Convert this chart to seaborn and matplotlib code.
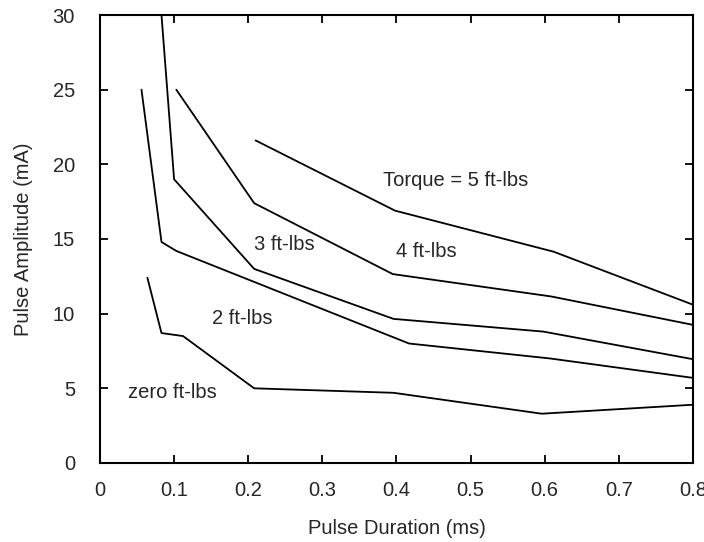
import pandas as pd
import matplotlib
matplotlib.use('Agg')
import matplotlib.pyplot as plt
import seaborn as sns

# Pulse duration (ms) / amplitude (mA) for each torque curve
zero_x = [0.064, 0.083, 0.112, 0.208, 0.396, 0.596, 0.80]
zero_y = [12.4, 8.7, 8.5, 5.0, 4.7, 3.3, 3.9]

two_x = [0.056, 0.083, 0.103, 0.417, 0.607, 0.80]
two_y = [25.0, 14.8, 14.2, 8.0, 7.0, 5.7]

three_x = [0.083, 0.100, 0.208, 0.396, 0.598, 0.80]
three_y = [30.0, 19.0, 13.0, 9.65, 8.8, 6.95]

four_x = [0.103, 0.208, 0.395, 0.609, 0.80]
four_y = [25.0, 17.4, 12.65, 11.15, 9.25]

five_x = [0.210, 0.398, 0.612, 0.80]
five_y = [21.6, 16.9, 14.15, 10.6]

labels = ['zero ft-lbs', '2 ft-lbs', '3 ft-lbs', '4 ft-lbs', 'Torque = 5 ft-lbs']
label_x = [0.098, 0.192, 0.249, 0.44, 0.48]
label_y = [4.7, 9.7, 14.6, 14.15, 18.95]

sns.set_style('ticks')
plt.rcParams['font.family'] = ['Liberation Sans', 'DejaVu Sans']

fig = plt.figure(figsize=(7.04, 5.42), dpi=100)
ax = fig.add_axes([0.142, 0.1458, 0.8423, 0.8265])

curves = [(zero_x, zero_y), (two_x, two_y), (three_x, three_y),
          (four_x, four_y), (five_x, five_y)]
for xs, ys in curves:
    sns.lineplot(x=xs, y=ys, ax=ax, color='black', linewidth=1.3,
                 sort=False, estimator=None)

for txt, tx, ty in zip(labels, label_x, label_y):
    ax.text(tx, ty, txt, ha='center', va='center', fontsize=14.5)

ax.set_xlim(0, 0.8)
ax.set_ylim(0, 30)
ax.set_xticks([0, 0.1, 0.2, 0.3, 0.4, 0.5, 0.6, 0.7, 0.8])
ax.set_xticklabels(['0', '0.1', '0.2', '0.3', '0.4', '0.5', '0.6', '0.7', '0.8'])
ax.set_yticks([0, 5, 10, 15, 20, 25, 30])
ax.tick_params(direction='in', length=6, width=1.3, labelsize=14.5,
               top=True, right=True, color='black')
ax.tick_params(axis='x', pad=13)
ax.tick_params(axis='y', pad=18)
for sp in ax.spines.values():
    sp.set_linewidth(1.5)
    sp.set_color('black')

ax.set_xlabel('Pulse Duration (ms)', fontsize=14.5, labelpad=14)
ax.set_ylabel('Pulse Amplitude (mA)', fontsize=14.5, labelpad=14)

fig.savefig('out.png', dpi=100)
